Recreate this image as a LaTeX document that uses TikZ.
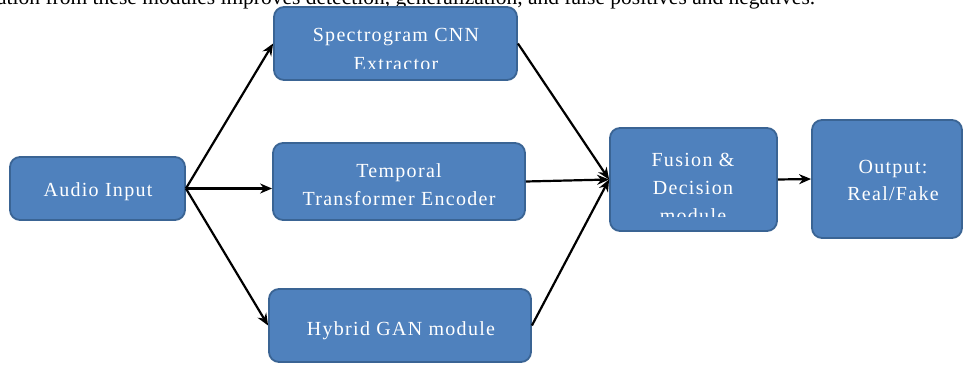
\documentclass[tikz,border=0pt]{standalone}
\usepackage{fontspec}
\setmainfont{Liberation Serif}
\newfontfamily\boxfont[LetterSpace=6.5]{Liberation Serif}
\usetikzlibrary{arrows.meta}
\definecolor{boxfill}{HTML}{4F81BD}
\definecolor{boxline}{HTML}{3A6494}
\begin{document}
\begin{tikzpicture}[x=1pt,y=-1pt,
  box/.style={draw=boxline, line width=1.8pt, fill=boxfill, rounded corners=10pt, inner sep=0pt},
  lbl/.style={text=white, font=\boxfont\fontsize{20}{27}\selectfont, inner sep=0pt, anchor=base},
  toptext/.style={text=black, font=\fontsize{21.5}{24}\selectfont, inner sep=0pt, anchor=base west},
  arr/.style={-{Stealth[length=12pt,width=10pt]}, line width=2.2pt, black}]
\useasboundingbox (0,0) rectangle (963,364);
\clip (0,0) rectangle (963,364);
\node[toptext] (top) at (-3,5) {ation from these modules improves detection, generalization, and false positives and negatives.};
% boxes
\node[box, minimum width=175pt, minimum height=63pt] (audio) at (97.5,188.5) {};
\node[box, minimum width=243pt, minimum height=73pt] (spec) at (395.5,43.5) {};
\node[box, minimum width=252pt, minimum height=77pt] (temp) at (399,181.5) {};
\node[box, minimum width=262pt, minimum height=73pt] (hyb) at (400,325.5) {};
\node[box, minimum width=167pt, minimum height=103pt] (fus) at (693.5,179.5) {};
\node[box, minimum width=150pt, minimum height=118pt] (out) at (887,179) {};
% labels
\node[lbl] (audiot) at (98,196.5) {Audio Input};
\begin{scope}
  \clip (274,7) rectangle (517,68);
  \node[lbl] (spect1) at (396,41) {Spectrogram CNN};
  \node[lbl] (spect2) at (396,70) {Extractor};
\end{scope}
\node[lbl] (tempt1) at (399,177) {Temporal};
\node[lbl] (tempt2) at (399,205) {Transformer Encoder};
\node[lbl] (hybt) at (401,335) {Hybrid GAN module};
\begin{scope}
  \clip (610,128) rectangle (777,216.5);
  \node[lbl] (fust1) at (693,166.5) {Fusion \&};
  \node[lbl] (fust2) at (693,194) {Decision};
  \node[lbl] (fust3) at (693,222) {module};
\end{scope}
\node[lbl] (outt1) at (893,173) {Output:};
\node[lbl] (outt2) at (893,200.5) {Real/Fake};
% connectors
\draw[arr] (audio.east) -- (spec.west);
\draw[arr] (audio.east) -- (audio.east -| temp.west);
\draw[arr] (audio.east) -- (hyb.west);
\draw[arr] (spec.east) -- (fus.west);
\draw[arr] (temp.east) -- (fus.west);
\draw[arr] (hyb.east) -- (fus.west);
\draw[arr] (fus.east) -- (out.west);
\end{tikzpicture}
\end{document}
